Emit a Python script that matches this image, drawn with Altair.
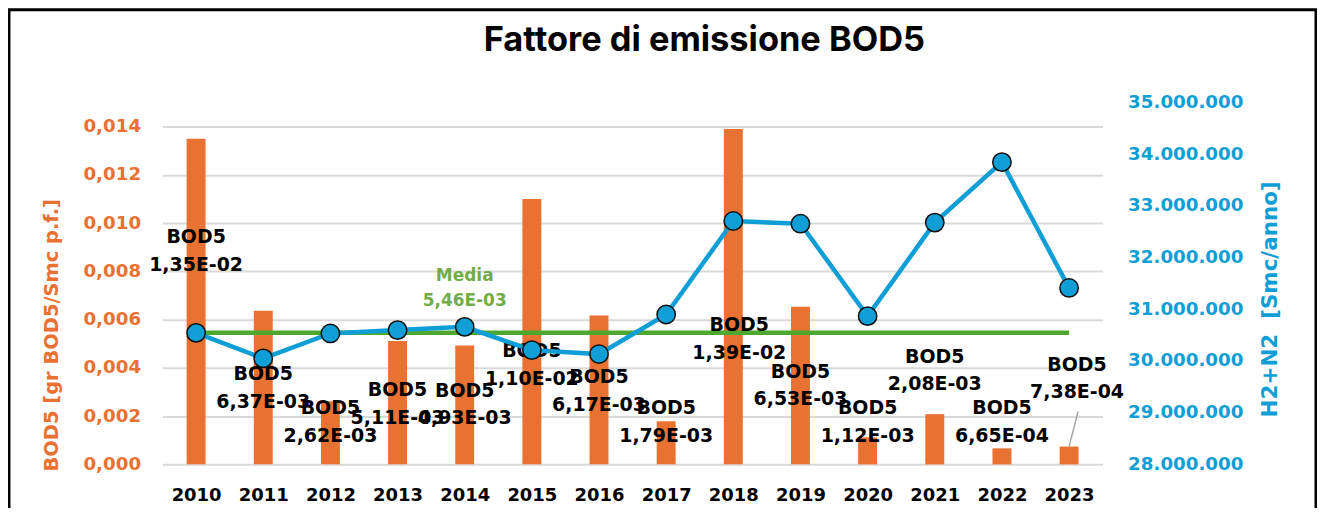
import altair as alt
import pandas as pd

# ---------------- data ----------------
years = ["2010", "2011", "2012", "2013", "2014", "2015", "2016",
         "2017", "2018", "2019", "2020", "2021", "2022", "2023"]
bod5 = [0.0135, 0.00637, 0.00262, 0.00511, 0.00493, 0.0110, 0.00617,
        0.00179, 0.0139, 0.00653, 0.00112, 0.00208, 0.000665, 0.000738]
h2n2 = [30544000, 30050000, 30533000, 30597000, 30660000, 30210000, 30133000,
        30900000, 32707000, 32656000, 30867000, 32676000, 33846000, 31413000]
media = 0.00546
left_ticks = [0.0, 0.002, 0.004, 0.006, 0.008, 0.010, 0.012, 0.014]
right_ticks = [28000000, 29000000, 30000000, 31000000, 32000000, 33000000, 34000000, 35000000]

# label placement (as in the Excel chart, in left-axis units / pixel shifts)
label_y = [0.00883, 0.00317, 0.00176, 0.00252, 0.00248, 0.00413, 0.00304,
           0.00174, 0.00520, 0.00327, 0.00174, 0.00389, 0.00176, 0.00356]
label_dx = [0, 0, 0, 0, 0, 0, 0, 0, 6, 0, 0, 0, 0, 8]
media_label_year = "2014"
media_label_y = 0.00732
leader_year = "2023"
leader_top = 0.00219


def sci(v):
    return f"{v:.2E}".replace(".", ",")


df = pd.DataFrame({
    "anno": years,
    "bod5": bod5,
    "h2n2": h2n2,
    "media": [media] * len(years),
    "label_y": label_y,
    "label_dx": label_dx,
    "label": [f"BOD5\n{sci(v)}" for v in bod5],
})
media_df = pd.DataFrame({"anno": [media_label_year], "y": [media_label_y],
                         "label": [f"Media\n{sci(media)}"]})
leader_df = df[df["anno"] == leader_year].assign(top=leader_top)

ORANGE = "#E97132"
BLUE = "#0F9ED5"
GREEN = "#4EA72E"
LGREEN = "#70AD47"
TICKFONT = "DejaVu Sans"

x_enc = alt.X("anno:O", scale=alt.Scale(type="point", padding=0.5),
              axis=alt.Axis(title=None, labelAngle=0, domain=False, ticks=False, tickSize=0,
                            labelFont=TICKFONT, labelFontSize=18, labelFontWeight="bold",
                            labelColor="#000000", labelPadding=22))

left_scale = alt.Scale(domain=[0, 0.015], nice=False, zero=True)
left_axis = alt.Axis(values=left_ticks, format=".3f", grid=True, gridColor="#D9D9D9", gridWidth=2,
                     domain=False, ticks=False, tickSize=0,
                     labelColor=ORANGE, labelFont=TICKFONT, labelFontSize=18.3, labelFontWeight="bold",
                     labelPadding=22,
                     title="BOD5 [gr BOD5/Smc p.f.]", titleColor=ORANGE, titleFont=TICKFONT,
                     titleFontSize=19.5, titleFontWeight="bold", titleAngle=270, titleAlign="center",
                     titleBaseline="middle", titleX=-111, titleY=233)
right_scale = alt.Scale(domain=[28000000, 35000000], nice=False, zero=False)
right_axis = alt.Axis(orient="right", values=right_ticks, format=",d", grid=False,
                      domain=False, ticks=False, tickSize=0,
                      labelColor=BLUE, labelFont=TICKFONT, labelFontSize=18.3, labelFontWeight="bold",
                      labelPadding=25,
                      title="H2+N2 \u00a0[Smc/anno]", titleColor=BLUE, titleFont=TICKFONT,
                      titleFontSize=21.5, titleFontWeight="bold", titleAngle=270, titleAlign="center",
                      titleBaseline="middle", titleX=168, titleY=197)

base = alt.Chart(df)

frame = alt.Chart(pd.DataFrame({"f": [0]})).mark_rect(
    fill="transparent", stroke="#000000", strokeWidth=3
).encode(x=alt.value(-154), x2=alt.value(1157), y=alt.value(-93), y2=alt.value(440))

bars = base.mark_bar(size=19, color=ORANGE).encode(
    x=x_enc, y=alt.Y("bod5:Q", scale=left_scale, axis=left_axis))

mean_line = base.mark_line(color=GREEN, strokeWidth=4.5).encode(
    x=x_enc, y=alt.Y("media:Q", scale=left_scale, axis=left_axis))

label_layers = []
for dx in sorted(set(label_dx)):
    label_layers.append(
        base.transform_filter(alt.datum.label_dx == dx).mark_text(
            font=TICKFONT, fontSize=19, fontWeight="bold", color="#000000",
            lineBreak="\n", lineHeight=28, align="center", baseline="middle", dx=dx, dy=-14
        ).encode(x=x_enc, y=alt.Y("label_y:Q", scale=left_scale, axis=left_axis), text="label:N")
    )

leader = alt.Chart(leader_df).mark_rule(color="#A6A6A6", strokeWidth=1.5, x2Offset=9).encode(
    x=x_enc, x2="anno:O",
    y=alt.Y("bod5:Q", scale=left_scale, axis=left_axis), y2="top:Q")

media_text = alt.Chart(media_df).mark_text(
    font=TICKFONT, fontSize=17, fontWeight="bold", color=LGREEN,
    lineBreak="\n", lineHeight=25, align="center", baseline="middle", dy=-12
).encode(x=x_enc, y=alt.Y("y:Q", scale=left_scale, axis=left_axis), text="label:N")

left = alt.layer(frame, bars, mean_line, *label_layers, leader, media_text)

line = base.mark_line(color=BLUE, strokeWidth=4.5).encode(
    x=x_enc, y=alt.Y("h2n2:Q", scale=right_scale, axis=right_axis))
points = base.mark_circle(size=340, color=BLUE, opacity=1, stroke="#111111", strokeWidth=1.5).encode(
    x=x_enc, y=alt.Y("h2n2:Q", scale=right_scale, axis=right_axis))
right = alt.layer(line, points)

chart = alt.layer(left, right).resolve_scale(y="independent").properties(
    width=943, height=363,
    autosize=alt.AutoSizeParams(type="none"),
    padding={"left": 155, "top": 94, "right": 215, "bottom": 43},
    title=alt.TitleParams("Fattore di emissione BOD5", font="Inter", fontSize=34.5, fontWeight="bold",
                          color="#000000", anchor="middle", frame="group", dx=72,
                          baseline="alphabetic", offset=0, dy=77),
).configure(
    locale={"number": {"decimal": ",", "thousands": ".", "grouping": [3], "currency": ["", " €"]}}
).configure_view(stroke=None)

chart.save("out.html", embed_options={"renderer": "svg", "actions": False})
